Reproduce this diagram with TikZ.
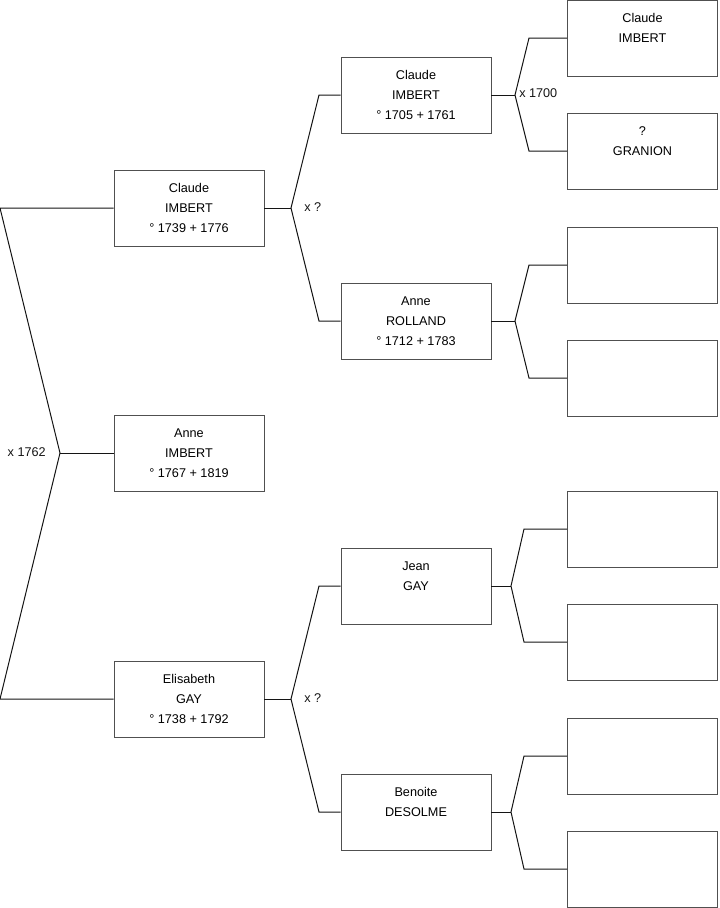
\documentclass[tikz,border=0pt]{standalone}
\usepackage{fontspec}
\setmainfont{Liberation Sans}
\usepackage{tikz}
\usetikzlibrary{positioning}
\definecolor{treeink}{HTML}{141414}
\definecolor{treeframe}{HTML}{505050}

\begin{document}
\begin{tikzpicture}[
  x=0.75pt, y=-0.75pt,
  font=\fontsize{9.5}{15}\selectfont,
  box/.style={draw=treeframe, line width=0.7pt, minimum width=112.5pt, minimum height=57pt, inner sep=0pt, align=center},
  link/.style={draw=treeink, line width=0.75pt},
  lbl/.style={inner sep=0pt, text=treeink}
]
\useasboundingbox (0,0) rectangle (719,908);

% generation 1 and 2
\node[box] (anne) at (189,453) {Anne\\IMBERT\\° 1767 + 1819};
\node[box] (claude) at (189,208) {Claude\\IMBERT\\° 1739 + 1776};
\node[box] (elisabeth) at (189,699) {Elisabeth\\GAY\\° 1738 + 1792};

% generation 3
\node[box] (claudeP) at (416,95) {Claude\\IMBERT\\° 1705 + 1761};
\node[box] (anneR) at (416,321) {Anne\\ROLLAND\\° 1712 + 1783};
\node[box] (jean) at (416,586) {Jean\\GAY\\\mbox{}};
\node[box] (benoite) at (416,812) {Benoite\\DESOLME\\\mbox{}};

% generation 4
\node[box] (p1) at (642.5,38) {Claude\\IMBERT\\\mbox{}};
\node[box] (p2) at (642.5,151) {?\\GRANION\\\mbox{}};
\node[box] (p3) at (642.5,265) {};
\node[box] (p4) at (642.5,378) {};
\node[box] (p5) at (642.5,529) {};
\node[box] (p6) at (642.5,642) {};
\node[box] (p7) at (642.5,756) {};
\node[box] (p8) at (642.5,869) {};

% forks
\coordinate (f0) at (60,453);
\coordinate (f0a) at (0,208);
\coordinate (f0b) at (0,699);
\draw[link] (anne.west) -- (f0);
\draw[link] (claude.west) -- (f0a) -- (f0) -- (f0b) -- (elisabeth.west);
\node[lbl, anchor=east] (m0) at (46,452) {x 1762};

\coordinate (f1) at (291,208);
\draw[link] (claude.east) -- (f1);
\draw[link] (claudeP.west) -- (319,95) -- (f1) -- (319,321) -- (anneR.west);
\node[lbl, anchor=west] (m1) at (304,207) {x ?};

\coordinate (f2) at (291,699);
\draw[link] (elisabeth.east) -- (f2);
\draw[link] (jean.west) -- (319,586) -- (f2) -- (319,812) -- (benoite.west);
\node[lbl, anchor=west] (m2) at (304,698) {x ?};

\coordinate (f3) at (515,95);
\draw[link] (claudeP.east) -- (f3);
\draw[link] (p1.west) -- (529,38) -- (f3) -- (529,151) -- (p2.west);
\node[lbl, anchor=west] (m3) at (519,93) {x 1700};

\coordinate (f4) at (515,321);
\draw[link] (anneR.east) -- (f4);
\draw[link] (p3.west) -- (529,265) -- (f4) -- (529,378) -- (p4.west);

\coordinate (f5) at (511,586);
\draw[link] (jean.east) -- (f5);
\draw[link] (p5.west) -- (524,529) -- (f5) -- (524,642) -- (p6.west);

\coordinate (f6) at (511,812);
\draw[link] (benoite.east) -- (f6);
\draw[link] (p7.west) -- (524,756) -- (f6) -- (524,869) -- (p8.west);
\end{tikzpicture}
\end{document}
